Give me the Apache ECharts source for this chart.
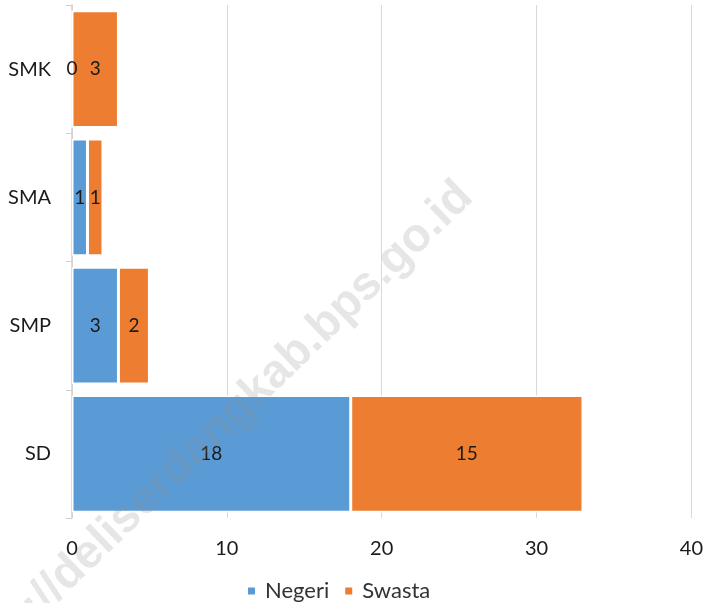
<!DOCTYPE html>
<html>
<head>
<meta charset="utf-8">
<script src="https://cdn.jsdelivr.net/npm/echarts@6/dist/echarts.min.js"></script>
<style>
  html, body { margin: 0; padding: 0; background: #fff; }
  #chart { width: 706px; height: 603px; }
</style>
</head>
<body>
<div id="chart"></div>
<script>
// data
const categories = ['SD', 'SMP', 'SMA', 'SMK'];
const negeri = [18, 3, 1, 0];
const swasta = [15, 2, 1, 3];
const xTicks = [0, 10, 20, 30, 40];

const chart = echarts.init(document.getElementById('chart'));
const fontFamily = 'Lato, "Open Sans", sans-serif';

const labelStyle = {
  show: true,
  position: 'inside',
  color: '#1a1a1a',
  fontSize: 19,
  fontFamily: fontFamily
};

const option = {
  animation: false,
  textStyle: { fontFamily: fontFamily },
  grid: { left: 72, right: 14, top: 5, bottom: 85, containLabel: false },
  legend: {
    top: 575,
    left: 241,
    itemWidth: 9,
    itemHeight: 9,
    itemGap: 14,
    icon: 'rect',
    textStyle: { fontSize: 22, color: '#333', fontFamily: fontFamily, padding: [0, 0, 0, 4] },
    data: ['Negeri', 'Swasta']
  },
  xAxis: {
    type: 'value',
    min: xTicks[0],
    max: xTicks[xTicks.length - 1],
    interval: 10,
    axisLine: { show: false },
    axisTick: { show: false },
    axisLabel: { fontSize: 20, color: '#1a1a1a', margin: 21 },
    splitLine: { show: true, lineStyle: { color: '#d9d9d9', width: 1 } }
  },
  yAxis: {
    type: 'category',
    data: categories,
    axisLine: { show: true, lineStyle: { color: '#d0d0d0', width: 1.5 } },
    axisTick: { show: true, length: 6, lineStyle: { color: '#d0d0d0' } },
    axisLabel: { fontSize: 20, color: '#1a1a1a', margin: 21 }
  },
  series: [
    {
      name: 'Negeri',
      type: 'bar',
      stack: 'total',
      barCategoryGap: '9%',
      data: negeri,
      itemStyle: { color: '#5b9bd5', borderColor: '#ffffff', borderWidth: 1.5 },
      label: labelStyle
    },
    {
      name: 'Swasta',
      type: 'bar',
      stack: 'total',
      barCategoryGap: '9%',
      data: swasta,
      itemStyle: { color: '#ed7d31', borderColor: '#ffffff', borderWidth: 1.5 },
      label: labelStyle
    }
  ],
  graphic: [
    {
      type: 'text',
      z: 100,
      x: 215,
      y: 432,
      rotation: Math.PI * 44 / 180,
      style: {
        text: 'http://deliserdangkab.bps.go.id',
        font: 'bold 47px "Liberation Sans", Arial, sans-serif',
        fill: 'rgba(140,140,140,0.22)',
        align: 'center',
        verticalAlign: 'middle'
      }
    }
  ]
};

chart.setOption(option);
</script>
</body>
</html>
